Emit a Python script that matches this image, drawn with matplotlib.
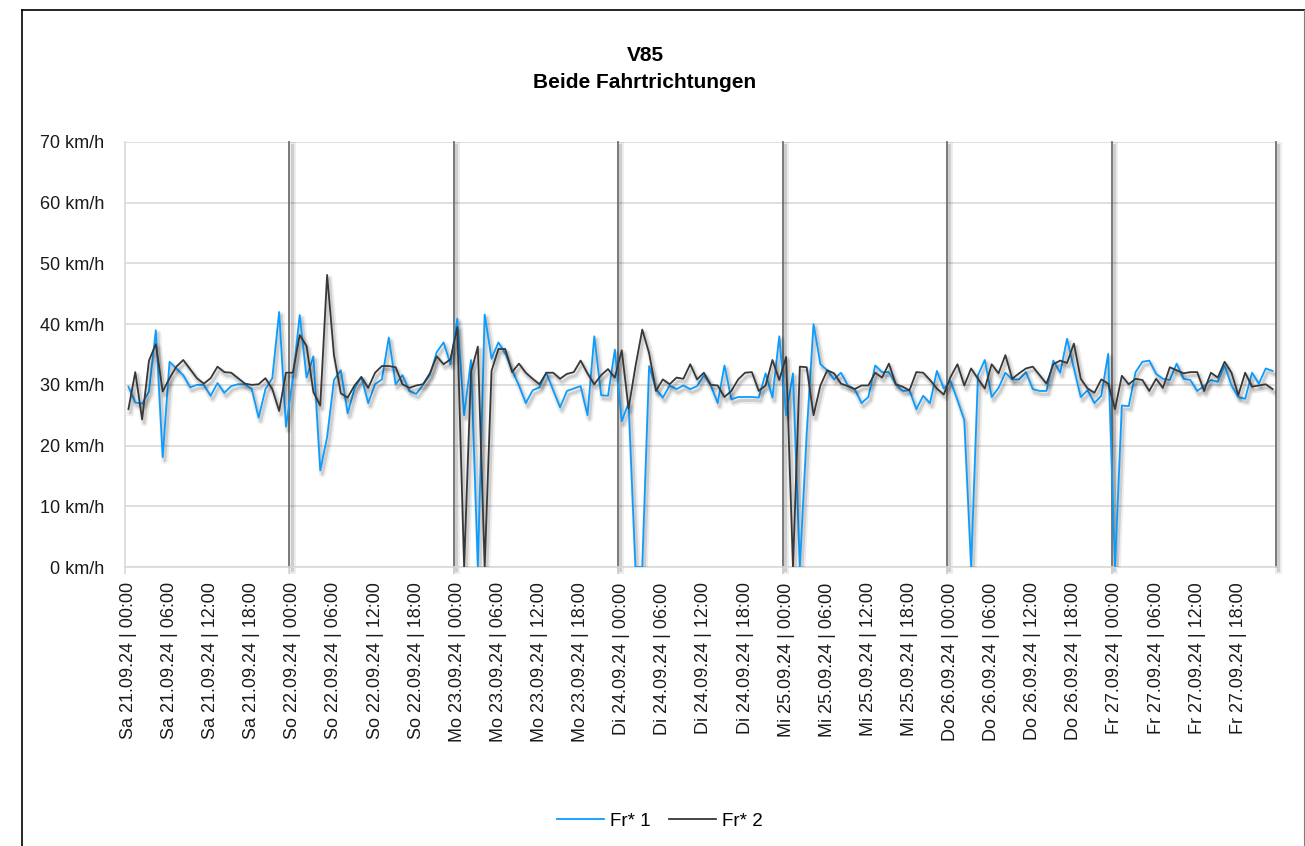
import matplotlib
matplotlib.use('Agg')
import matplotlib.pyplot as plt
import matplotlib.patheffects as pe
from matplotlib.lines import Line2D

# V85 per hour, Sa 21.09.24 00:00 .. Fr 27.09.24 23:00
fr1 = [29.7, 27.1, 26.9, 28.9, 39.0, 18.1, 33.8, 32.7, 31.6, 29.6, 30.0, 30.0, 28.2, 30.3, 28.7, 29.8, 30.1, 30.1, 29.3, 24.6, 29.3, 31.1, 42.0, 23.1,
       31.0, 41.5, 31.2, 34.7, 15.9, 21.4, 30.8, 32.4, 25.3, 29.4, 31.3, 27.0, 30.1, 30.9, 37.8, 30.1, 31.6, 29.0, 28.5, 30.0, 31.6, 35.4, 37.0, 33.4,
       40.9, 25.0, 34.1, 0.0, 41.6, 34.3, 37.0, 35.2, 32.4, 29.9, 27.0, 29.1, 29.6, 32.0, 29.1, 26.3, 29.0, 29.4, 29.8, 25.0, 38.0, 28.3, 28.2, 35.8,
       24.0, 27.0, 0.0, 0.0, 33.1, 29.3, 27.9, 29.9, 29.3, 29.9, 29.3, 29.8, 31.6, 29.9, 27.0, 33.2, 27.6, 28.0, 28.0, 28.0, 27.9, 31.9, 27.9, 38.0,
       25.0, 31.9, 0.0, 22.0, 40.0, 33.4, 32.4, 30.9, 32.0, 29.9, 29.3, 27.0, 28.0, 33.2, 32.1, 32.1, 30.1, 29.0, 29.1, 26.0, 28.2, 27.0, 32.3, 29.4,
       30.6, 27.5, 24.2, 0.0, 31.6, 34.1, 28.0, 29.5, 32.0, 30.9, 30.9, 32.1, 29.3, 29.0, 29.0, 34.0, 32.0, 37.6, 32.7, 28.0, 29.1, 27.0, 28.2, 35.1,
       0.0, 26.6, 26.5, 32.1, 33.8, 34.0, 31.8, 31.0, 30.8, 33.5, 31.0, 30.8, 29.0, 29.8, 30.8, 30.5, 33.2, 29.9, 28.0, 27.7, 32.0, 30.2, 32.7, 32.3]

fr2 = [26.0, 32.1, 24.3, 34.0, 36.7, 28.9, 31.1, 33.0, 34.1, 32.6, 31.1, 30.2, 31.1, 33.0, 32.1, 32.0, 31.1, 30.2, 30.0, 30.1, 31.1, 29.3, 25.7, 32.0,
       32.0, 38.2, 36.4, 28.8, 26.6, 48.1, 34.9, 28.6, 27.9, 29.9, 31.3, 29.5, 32.0, 33.1, 33.1, 32.9, 30.1, 29.5, 29.9, 30.1, 31.9, 34.7, 33.4, 34.2,
       39.5, 0.0, 32.1, 36.3, 0.0, 32.3, 35.9, 35.9, 32.1, 33.5, 32.0, 31.0, 30.1, 32.0, 32.0, 31.0, 31.8, 32.1, 34.0, 31.9, 30.1, 31.6, 32.6, 31.2,
       35.7, 26.1, 33.0, 39.1, 35.2, 29.0, 30.9, 30.1, 31.2, 31.0, 33.4, 30.9, 32.0, 30.0, 29.9, 28.0, 29.0, 30.9, 32.0, 32.1, 29.0, 29.9, 34.1, 30.8,
       34.6, 0.0, 33.0, 32.9, 25.0, 29.9, 32.4, 31.9, 30.2, 29.8, 29.3, 29.9, 29.9, 32.0, 31.2, 33.5, 30.1, 29.7, 29.1, 32.1, 32.0, 30.8, 29.4, 28.4,
       31.3, 33.4, 29.9, 32.7, 31.0, 29.4, 33.4, 31.9, 34.9, 31.0, 31.9, 32.7, 33.0, 31.6, 30.2, 33.4, 34.0, 33.6, 36.8, 31.0, 29.4, 28.7, 30.9, 30.2,
       26.0, 31.5, 30.1, 31.0, 30.8, 29.0, 31.0, 29.5, 32.9, 32.4, 31.9, 32.1, 32.1, 29.0, 32.0, 31.2, 33.8, 32.0, 28.3, 32.0, 29.7, 29.9, 30.1, 29.3]

days = ['Sa 21.09.24', 'So 22.09.24', 'Mo 23.09.24', 'Di 24.09.24',
        'Mi 25.09.24', 'Do 26.09.24', 'Fr 27.09.24']
times = ['00:00', '06:00', '12:00', '18:00']
y_ticks = [0, 10, 20, 30, 40, 50, 60, 70]

plt.rcParams['font.family'] = ['Liberation Sans', 'DejaVu Sans']

fig = plt.figure(figsize=(13.05, 8.46), dpi=100)
ax = fig.add_axes([125 / 1305, 1 - 567 / 846, 1151 / 1305, 425 / 846])

# outer chart border
top = 1 - 10 / 846
fig.add_artist(Line2D([22 / 1305, 22 / 1305], [0, top], color='black', lw=1.2))
fig.add_artist(Line2D([22 / 1305, 1], [top, top], color='black', lw=1.2))
fig.add_artist(Line2D([1304 / 1305, 1304 / 1305], [0, top], color='#7f7f7f', lw=0.8))

shadow = [pe.SimpleLineShadow(offset=(1.5, -2.5), shadow_color='#000000', alpha=0.07, linewidth=5),
          pe.SimpleLineShadow(offset=(1.5, -2.5), shadow_color='#000000', alpha=0.13, linewidth=2.2),
          pe.Normal()]

x = [h + 0.5 for h in range(len(fr1))]

# day separators
for d in range(1, len(days) + 1):
    ax.axvline(d * 24, color='#707070', lw=1.3, zorder=2, clip_on=False, path_effects=shadow)

ax.plot(x, fr1, color='#0a9cff', lw=1.3, label='Fr* 1', zorder=3, path_effects=shadow)
ax.plot(x, fr2, color='#383838', lw=1.3, label='Fr* 2', zorder=4, path_effects=shadow)

ax.set_xlim(0, len(fr1))
ax.set_ylim(0, 70)
ax.set_yticks(y_ticks)
ax.set_yticklabels([f'{v} km/h' for v in y_ticks])
ax.yaxis.grid(True, color='#d9d9d9', lw=1.2, zorder=0)
ax.set_axisbelow(True)

labels = [f'{d} | {t}' for d in days for t in times]
ax.set_xticks([i * 6 + 0.5 for i in range(len(labels))])
ax.set_xticklabels(labels, rotation=90, va='top', ha='center')
ax.set_xticks([d * 24 for d in range(len(days))], minor=True)

ax.tick_params(axis='y', length=0, pad=15, labelsize=13, labelcolor='#1a1a1a')
ax.tick_params(axis='x', which='major', length=0, pad=11, labelsize=13, labelcolor='#1a1a1a')
ax.tick_params(axis='x', which='minor', length=5, width=1.2, color='#d9d9d9')

for s in ['top', 'right']:
    ax.spines[s].set_visible(False)
for s in ['left', 'bottom']:
    ax.spines[s].set_color('#d9d9d9')
    ax.spines[s].set_linewidth(1.2)

fig.text(645 / 1305, 1 - 69 / 846, 'V85\nBeide Fahrtrichtungen', ha='center', va='center',
         fontsize=15, fontweight='bold', linespacing=1.5)

handles, names = ax.get_legend_handles_labels()
leg = fig.legend([Line2D([], [], color='#0a9cff', lw=1.3), Line2D([], [], color='#383838', lw=1.3)],
                 names, loc='center', bbox_to_anchor=(660 / 1305, 1 - 821 / 846), ncol=2,
                 frameon=False, fontsize=13.5, handlelength=2.5, columnspacing=1.0, handletextpad=0.3)

fig.savefig('out.png', dpi=100)
